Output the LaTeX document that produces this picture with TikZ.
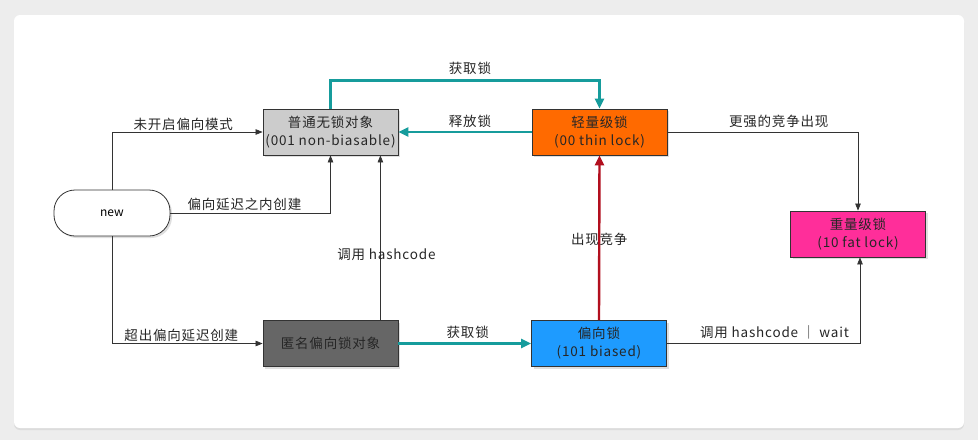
\documentclass[tikz,border=0pt]{standalone}
\usepackage{fontspec}
\setmainfont{Noto Sans CJK SC}
\newfontfamily\wideface[LetterSpace=6]{Noto Sans CJK SC}
\usetikzlibrary{arrows.meta, positioning, calc, shadows}

\definecolor{pagegray}{HTML}{EDEDED}
\definecolor{boxline}{HTML}{333333}
\definecolor{plaingray}{HTML}{CCCCCC}
\definecolor{anongray}{HTML}{666666}
\definecolor{thinorange}{HTML}{FF6A00}
\definecolor{fatpink}{HTML}{FF2E9A}
\definecolor{biasblue}{HTML}{1E9BFF}
\definecolor{locktea}{HTML}{169C9C}
\definecolor{lockred}{HTML}{B20F1E}

\begin{document}
\begin{tikzpicture}[x=1pt, y=-1pt,
   box/.style={draw=boxline, line width=0.8pt, minimum width=135pt,
      minimum height=46pt, align=center, inner sep=1pt,
      font=\wideface\fontsize{13.5}{18}\selectfont, text=black!85,
      drop shadow={opacity=0.25, shadow xshift=2pt, shadow yshift=-2pt}},
   lbl/.style={font=\wideface\fontsize{13.5}{15}\selectfont, text=black!85, inner sep=1.5pt},
   arr/.style={draw=boxline, line width=0.7pt, -{Triangle[length=7pt, width=5.5pt]}},
   fat/.style={line width=2.4pt, -{Triangle[length=10pt, width=9pt]}}]

   % Hintergrund und Karte
   \useasboundingbox (0,0) rectangle (978,440);
   \fill[pagegray] (0,0) rectangle (978,440);
   \fill[white, rounded corners=6pt, drop shadow={opacity=0.15, shadow xshift=0pt, shadow yshift=-2pt}]
      (14,15) rectangle (964,428);

   % Zustaende
   \node[box, fill=plaingray] (plain) at (330.5,132) {普通无锁对象\\(001 non-biasable)};
   \node[box, fill=thinorange] (thin) at (599.5,132) {轻量级锁\\(00 thin lock)};
   \node[box, fill=fatpink] (fat) at (858,234) {重量级锁\\(10 fat lock)};
   \node[box, fill=anongray] (anon) at (330.5,343.5) {匿名偏向锁对象};
   \node[box, fill=biasblue] (bias) at (599,343.5) {偏向锁\\(101 biased)};

   % Startknoten
   \node[draw=boxline, line width=0.8pt, fill=white, rounded corners=21pt,
      minimum width=116pt, minimum height=46pt, font=\fontsize{12}{14}\selectfont,
      drop shadow={opacity=0.25, shadow xshift=2pt, shadow yshift=-2pt}]
      (new) at (112,213) {new};

   % Uebergaenge von new
   \draw[arr] (new.north) |- node[lbl, pos=0.75, above, xshift=-4pt] {未开启偏向模式} (plain.west);
   \draw[arr] (new.east) -| node[lbl, pos=0.25, above, xshift=-6pt] {偏向延迟之内创建} (plain.south);
   \draw[arr] (new.south) |- node[lbl, pos=0.75, above, xshift=-6pt] {超出偏向延迟创建} (anon.west);

   % hashcode auf dem anonymen Objekt
   \draw[arr] ([xshift=-18pt]anon.north east) -- node[lbl, pos=0.4, xshift=6pt] {调用 hashcode}
      ([xshift=-18pt]plain.south east);

   % Sperren holen und freigeben
   \draw[fat, locktea] (anon.east) -- node[lbl, above=2pt, xshift=3pt] {获取锁} (bias.west);
   \draw[fat, locktea] (thin.west) -- node[lbl, above=2pt, xshift=5pt] {释放锁} (plain.east);
   \draw[fat, locktea] (plain.north) -- ++(0,-28)
      -| node[lbl, pos=0.25, above=3pt, xshift=5pt] {获取锁} (thin.north);

   % Konkurrenz
   \draw[fat, lockred] (bias.north) -- node[lbl, yshift=-2pt] {出现竞争} (thin.south);
   \draw[arr] (thin.east) -| node[lbl, pos=0.25, above=2pt, xshift=16pt] {更强的竞争出现} (fat.north);
   \draw[arr] (bias.east) -| node[lbl, pos=0.25, above=3pt, xshift=11pt] {调用 hashcode ｜ wait}
      ([xshift=2pt]fat.south);

\end{tikzpicture}
\end{document}
